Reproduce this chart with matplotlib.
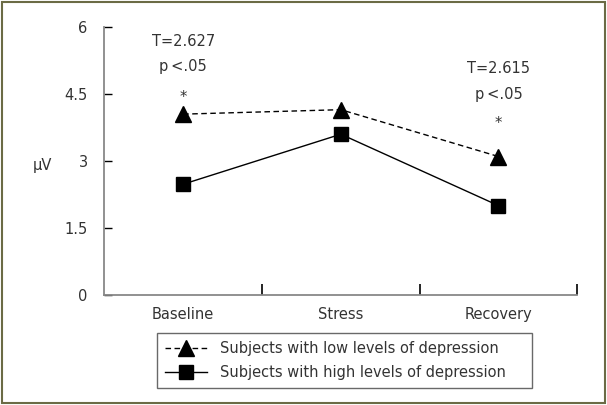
import matplotlib
matplotlib.use("Agg")
import matplotlib.pyplot as plt
from matplotlib.patches import Rectangle


# data
phases = ["Baseline", "Stress", "Recovery"]
low_dep = [4.05, 4.15, 3.10]
high_dep = [2.48, 3.60, 2.00]
y_ticks = [0, 1.5, 3, 4.5, 6]
y_tick_labels = ["0", "1.5", "3", "4.5", "6"]

# significance notes: (x index, y value, text)
notes = [(0, 5.68, "T=2.627"), (0, 5.12, "p\u2009<.05"), (0, 4.43, "*"),
         (2, 5.08, "T=2.615"), (2, 4.50, "p\u2009<.05"), (2, 3.83, "*")]

text_col = "#333333"
plt.rcParams["font.family"] = ["DejaVu Sans"]

fig = plt.figure(figsize=(6.07, 4.05), dpi=100)
ax = fig.add_axes([0.172, 0.272, 0.779, 0.661])

x = list(range(len(phases)))
ax.plot(x, low_dep, color="black", lw=1.0, ls=(0, (4, 2.5)), marker="^",
        markersize=11.5, label="Subjects with low levels of depression")
ax.plot(x, high_dep, color="black", lw=1.0, marker="s", markersize=10,
        label="Subjects with high levels of depression")

for xi, yv, t in notes:
    ax.text(xi, yv, t, ha="center", va="center", fontsize=10.5, color=text_col)

ax.set_xlim(-0.5, 2.5)
ax.set_ylim(0, 6)
ax.set_yticks(y_ticks)
ax.set_yticklabels(y_tick_labels, fontsize=10.5, color=text_col)
ax.set_xticks(x)
ax.set_xticklabels(phases, fontsize=10.5, color=text_col)
ax.tick_params(axis="x", length=0, pad=9)
ax.tick_params(axis="y", direction="in", length=6, width=1, color="black", pad=12)

# small separators between categories on the x axis
ax.set_xticks([0.5, 1.5, 2.5], minor=True)
ax.tick_params(axis="x", which="minor", direction="in", length=8, width=1.2, color="black")

for s in ["top", "right"]:
    ax.spines[s].set_visible(False)
for s in ["left", "bottom"]:
    ax.spines[s].set_color("#888888")
    ax.spines[s].set_linewidth(1.3)

ax.set_ylabel("\u03bcV", rotation=0, fontsize=10.5, color=text_col, va="center", ha="center")
ax.yaxis.set_label_coords(-0.132, 0.485)

leg = fig.legend(loc="lower left", bbox_to_anchor=(0.258, 0.042, 0.618, 0.133),
                 mode="expand", fontsize=10.5, frameon=True, fancybox=False,
                 handlelength=2.9, borderpad=0.55, labelspacing=0.6,
                 handletextpad=0.9, borderaxespad=0)
leg.get_frame().set_edgecolor("#444444")
leg.get_frame().set_linewidth(1.0)
for t in leg.get_texts():
    t.set_color(text_col)

# outer frame round the whole picture
fig.patches.append(Rectangle((0.004, 0.006), 0.992, 0.988, transform=fig.transFigure,
                             fill=False, edgecolor="#6b6b45", lw=1.5))

fig.savefig("out.png", dpi=100)
